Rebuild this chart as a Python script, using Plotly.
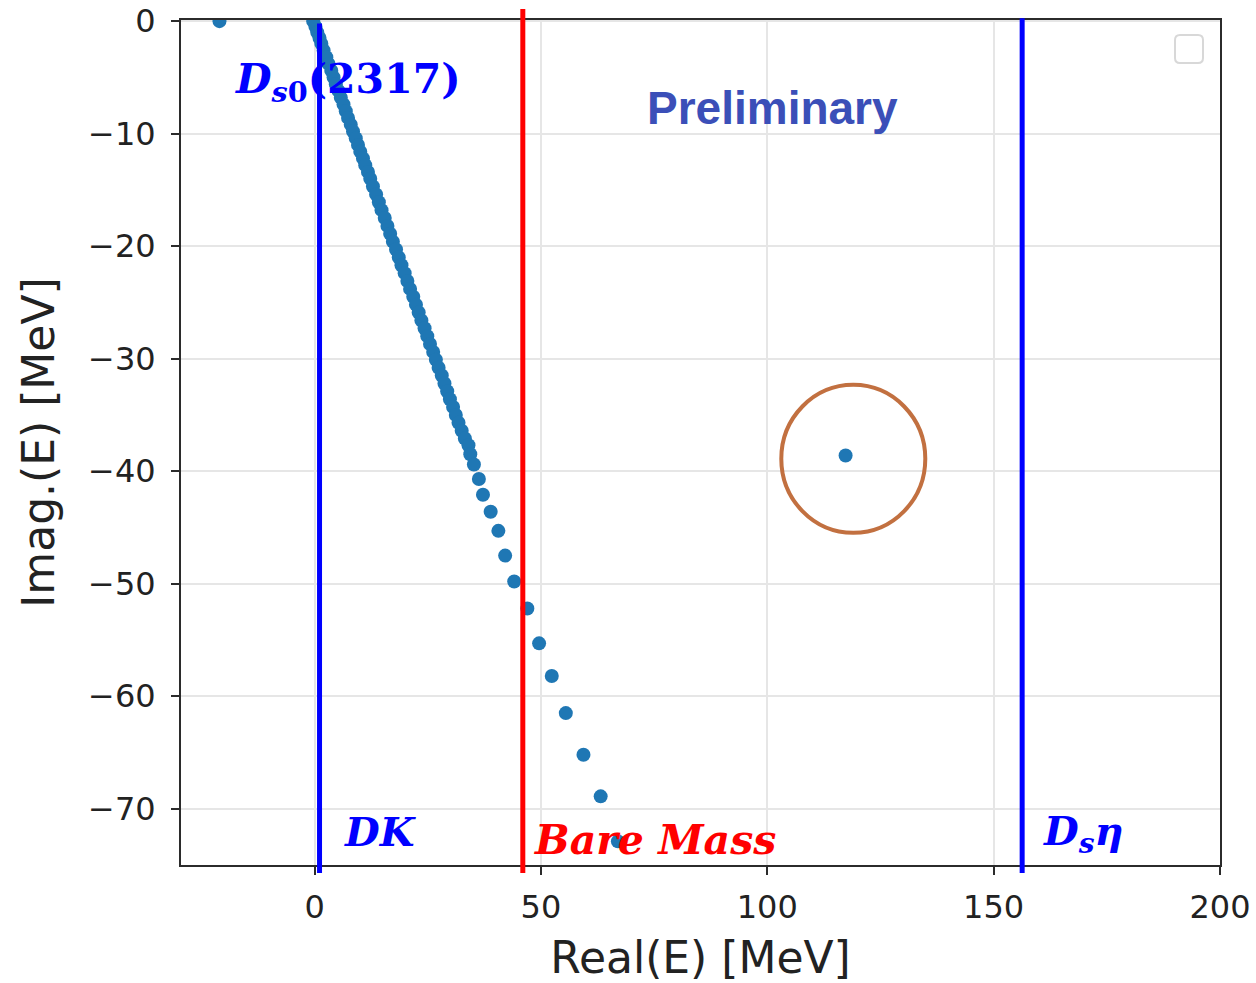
import plotly.graph_objects as go

# ---- data ----
chain_re = [-0.3, 0.2, 0.6, 1.1, 1.5, 2.0, 2.6, 3.1, 3.7, 4.2, 4.7, 5.3, 5.8, 6.4, 6.9,
            7.4, 8.0, 8.5, 9.1, 9.6, 10.1, 10.7, 11.2, 11.8, 12.3, 12.9, 13.6, 14.2, 14.8,
            15.5, 16.1, 16.7, 17.3, 18.0, 18.6, 19.2, 19.9, 20.5, 21.1, 21.8, 22.4, 23.0,
            23.6, 24.3, 24.9, 25.5, 26.2, 26.8, 27.4, 28.1, 28.7, 29.3, 29.9, 30.6, 31.2,
            31.8, 32.5, 33.2, 34.0, 34.4, 35.2, 36.3, 37.2, 38.9, 40.6, 42.1, 44.1, 47.0,
            49.6, 52.4, 55.5, 59.4, 63.2, 67.0]
chain_im = [0.0, -0.5, -1.0, -1.5, -2.0, -2.6, -3.2, -3.8, -4.4, -5.0, -5.6, -6.2, -6.8,
            -7.4, -8.0, -8.6, -9.2, -9.8, -10.4, -11.0, -11.6, -12.2, -12.8, -13.4, -14.0,
            -14.7, -15.4, -16.1, -16.8, -17.5, -18.2, -18.9, -19.6, -20.3, -21.0, -21.7,
            -22.4, -23.1, -23.8, -24.5, -25.2, -25.9, -26.6, -27.3, -28.0, -28.7, -29.4,
            -30.1, -30.8, -31.5, -32.2, -32.9, -33.6, -34.3, -35.0, -35.7, -36.4, -37.1,
            -37.7, -38.5, -39.4, -40.7, -42.1, -43.6, -45.3, -47.5, -49.8, -52.2, -55.3,
            -58.2, -61.5, -65.2, -68.9, -72.9]
extra_re = [-21.0, 117.3]
extra_im = [0.0, -38.6]

threshold_dk = 1.1
bare_mass = 46.0
threshold_dseta = 156.3
circle_center = (119.0, -38.9)

x_ticks = [0, 50, 100, 150, 200]
y_ticks = [0, -10, -20, -30, -40, -50, -60, -70]
x_range = [-29.5, 200]
y_range = [-75, 0.1]

# ---- figure ----
fig = go.Figure()
fig.add_trace(go.Scatter(
    x=chain_re + extra_re, y=chain_im + extra_im, mode="markers",
    marker=dict(size=14, color="#1f77b4", line=dict(width=0)),
    showlegend=False, cliponaxis=True))

axis_common = dict(showline=True, mirror=True, linecolor="#2b2b2b", linewidth=2,
                   ticks="outside", ticklen=8, tickwidth=2, tickcolor="#2b2b2b",
                   showgrid=True, gridcolor="#e6e6e6", gridwidth=1.5, zeroline=False,
                   automargin=False,
                   tickfont=dict(family="DejaVu Sans", size=32, color="#222222"))

fig.update_xaxes(range=x_range, tickvals=x_ticks, ticktext=[str(v) for v in x_ticks],
                 ticklabelstandoff=5,
                 title=dict(text="Real(E) [MeV]", font=dict(family="DejaVu Sans", size=44, color="#222222"),
                            standoff=20), **axis_common)
fig.update_yaxes(range=y_range, tickvals=y_ticks, ticktext=[("\u2212" + str(-v)) if v < 0 else "0" for v in y_ticks],
                 ticklabelstandoff=9,
                 title=dict(text="Imag.(E) [MeV]", font=dict(family="DejaVu Sans", size=44, color="#222222"),
                            standoff=20), **axis_common)

shapes = [
    dict(type="line", xref="x", yref="paper", x0=threshold_dk, x1=threshold_dk, y0=-0.0095, y1=0.996,
         line=dict(color="#0000ff", width=5)),
    dict(type="line", xref="x", yref="paper", x0=bare_mass, x1=bare_mass, y0=-0.0095, y1=1.013,
         line=dict(color="#ff0000", width=5)),
    dict(type="line", xref="x", yref="paper", x0=threshold_dseta, x1=threshold_dseta, y0=-0.0095, y1=1.002,
         line=dict(color="#0000ff", width=5)),
    dict(type="circle", xref="x", yref="y", xsizemode="pixel", ysizemode="pixel",
         xanchor=circle_center[0], yanchor=circle_center[1], x0=-72, x1=72, y0=-74, y1=74,
         line=dict(color="#c27040", width=4)),
    dict(type="path", xref="paper", yref="paper", xsizemode="pixel", ysizemode="pixel",
         xanchor=1, yanchor=1,
         path="M -40 -15 L -22 -15 Q -17 -15 -17 -20 L -17 -38 Q -17 -43 -22 -43 L -40 -43 Q -45 -43 -45 -38 L -45 -20 Q -45 -15 -40 -15 Z",
         line=dict(color="#d8d8d8", width=2)),
]
fig.update_layout(shapes=shapes)

serif = "DejaVu Serif"
annotations = [
    dict(x=7.3, y=-5.4, text="<b><i>D</i><sub><i>s</i>0</sub>(2317)</b>",
         font=dict(family=serif, size=41, color="#0000ff")),
    dict(x=101.1, y=-7.7, text="<b>Preliminary</b>",
         font=dict(family="Liberation Sans", size=46, color="#3b4fb8")),
    dict(x=14.6, y=-72.0, text="<b><i>DK</i></b>",
         font=dict(family=serif, size=40, color="#0000ff")),
    dict(x=75.2, y=-72.8, text="<b><i>Bare Mass</i></b>",
         font=dict(family=serif, size=41, color="#ff0000")),
    dict(x=169.9, y=-72.2, text="<b><i>D</i><sub><i>s</i></sub><i>\u03b7</i></b>",
         font=dict(family=serif, size=40, color="#0000ff")),
]
for a in annotations:
    a.update(xref="x", yref="y", showarrow=False, xanchor="center", yanchor="middle")
fig.update_layout(annotations=annotations)

fig.update_layout(width=1256, height=983, margin=dict(l=181, r=36, t=20, b=118),
                  plot_bgcolor="white", paper_bgcolor="white")

fig.write_html("out.html")
